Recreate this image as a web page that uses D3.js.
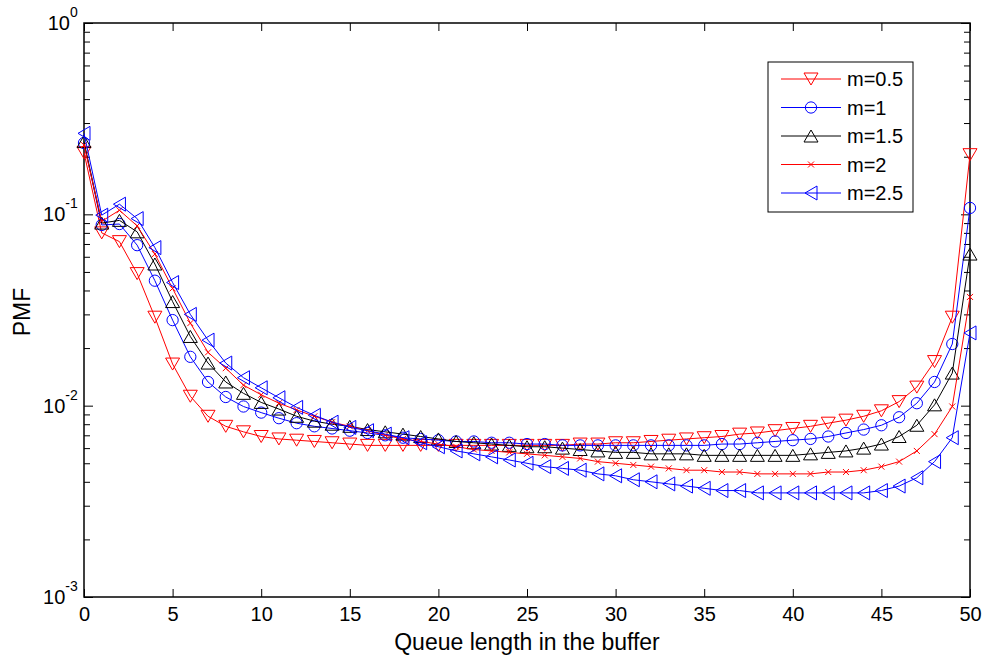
<!DOCTYPE html>
<html>
<head>
<meta charset="utf-8">
<script src="https://cdn.jsdelivr.net/npm/d3@7"></script>
<style>
  body { margin: 0; background: #fff; }
  svg { font-family: "Liberation Sans", Arial, sans-serif; }
</style>
</head>
<body>
<svg id="chart"></svg>
<script>
const [w, h] = [986, 664];
const [pl, pr, pt, pb] = [84, 970, 23, 597];

const queueLen = d3.range(0, 51);
const labels = ['m=0.5', 'm=1', 'm=1.5', 'm=2', 'm=2.5'];
const colors = ['#ff0000', '#0000ff', '#000000', '#ff0000', '#0000ff'];
const markers = ['down', 'circle', 'up', 'x', 'left'];
const xTicks = [0, 5, 10, 15, 20, 25, 30, 35, 40, 45, 50];
const yTicks = [1e-3, 1e-2, 1e-1, 1];
const yExps = ['-3', '-2', '-1', '0'];

const pmf05 = [0.21, 0.08, 0.072, 0.049, 0.029, 0.0165, 0.0112, 0.0088, 0.0078, 0.0073,
  0.0069, 0.0067, 0.0066, 0.0065, 0.0064, 0.0063, 0.0062, 0.0062, 0.0062, 0.0062,
  0.0062, 0.0062, 0.0062, 0.0062, 0.0062, 0.0062, 0.0062, 0.0062, 0.0063, 0.0063,
  0.0064, 0.0064, 0.0065, 0.0066, 0.0067, 0.0068, 0.0069, 0.0071, 0.0072, 0.0074,
  0.0076, 0.0078, 0.0081, 0.0084, 0.0088, 0.0094, 0.0105, 0.0125, 0.017, 0.029, 0.205];
const pmf1 = [0.236, 0.088, 0.089, 0.069, 0.045, 0.028, 0.018, 0.0133, 0.0111, 0.0099,
  0.0092, 0.0086, 0.0081, 0.0078, 0.0076, 0.0074, 0.0072, 0.0070, 0.0068, 0.0067,
  0.0066, 0.0065, 0.0065, 0.0064, 0.0064, 0.0063, 0.0063, 0.0062, 0.0062, 0.0062,
  0.0062, 0.0062, 0.0062, 0.0062, 0.0062, 0.0062, 0.0063, 0.0063, 0.0064, 0.0065,
  0.0066, 0.0067, 0.0069, 0.0072, 0.0075, 0.0079, 0.0087, 0.0103, 0.0133, 0.021, 0.108];
const pmf15 = [0.24, 0.09, 0.093, 0.081, 0.055, 0.035, 0.023, 0.0167, 0.0133, 0.0116,
  0.0104, 0.0096, 0.0088, 0.0083, 0.0080, 0.0078, 0.0075, 0.0073, 0.0071, 0.0069,
  0.0067, 0.0065, 0.0064, 0.0063, 0.0062, 0.0061, 0.0061, 0.0060, 0.0059, 0.0058,
  0.0057, 0.0057, 0.0056, 0.0056, 0.0056, 0.0055, 0.0055, 0.0055, 0.0055, 0.0055,
  0.0055, 0.0056, 0.0057, 0.0058, 0.0060, 0.0063, 0.0069, 0.0079, 0.0101, 0.0148, 0.062];
const pmf2 = [0.23, 0.092, 0.105, 0.087, 0.062, 0.041, 0.027, 0.019, 0.0157, 0.0128,
  0.0114, 0.0103, 0.0095, 0.0088, 0.0082, 0.0078, 0.0074, 0.0070, 0.0067, 0.0065,
  0.0063, 0.0061, 0.0059, 0.0058, 0.0057, 0.0056, 0.0055, 0.0054, 0.0053, 0.0051,
  0.0050, 0.0049, 0.0048, 0.0047, 0.0046, 0.0046, 0.0045, 0.0045, 0.0044, 0.0044,
  0.0044, 0.0044, 0.0045, 0.0045, 0.0046, 0.0048, 0.0051, 0.0058, 0.0071, 0.0099, 0.037];
const pmf25 = [0.265, 0.099, 0.113, 0.095, 0.067, 0.044, 0.030, 0.022, 0.0167, 0.014,
  0.0124, 0.011, 0.0098, 0.0089, 0.0082, 0.0077, 0.0074, 0.0071, 0.0068, 0.0064,
  0.0061, 0.0058, 0.0056, 0.0054, 0.0052, 0.0050, 0.0048, 0.0047, 0.0046, 0.0044,
  0.0043, 0.0041, 0.0040, 0.0039, 0.0038, 0.0037, 0.0036, 0.0036, 0.0035, 0.0035,
  0.0035, 0.0035, 0.0035, 0.0035, 0.0035, 0.0036, 0.0038, 0.0042, 0.0051, 0.0068, 0.024];

const series = [pmf05, pmf1, pmf15, pmf2, pmf25];

const svg = d3.select('#chart').attr('width', w).attr('height', h);
svg.append('rect').attr('width', w).attr('height', h).attr('fill', '#fff');

const xScale = d3.scaleLinear().domain([0, 50]).range([pl, pr]);
const yScale = d3.scaleLog().domain([1e-3, 1]).range([pb, pt]);

// minor log ticks
let minor = [];
[1e-3, 1e-2, 1e-1].forEach(d => { for (let k = 2; k <= 9; k++) minor.push(d * k); });

function styleAxis(g) {
  g.select('.domain').remove();
  g.selectAll('line').attr('stroke', '#000').attr('stroke-width', 1);
}

// x axes
svg.append('g').attr('transform', `translate(0,${pb})`)
  .call(d3.axisBottom(xScale).tickValues(xTicks).tickSize(-8).tickPadding(10).tickFormat(d3.format('d')))
  .call(styleAxis)
  .call(g => g.selectAll('text').attr('font-size', 20).attr('fill', '#000')
    .attr('font-family', '"Liberation Sans", Arial, sans-serif')
    .attr('y', 24).attr('dy', null));
svg.append('g').attr('transform', `translate(0,${pt})`)
  .call(d3.axisTop(xScale).tickValues(xTicks).tickSize(-8).tickFormat(''))
  .call(styleAxis);

// y axes
svg.append('g').attr('transform', `translate(${pl},0)`)
  .call(d3.axisLeft(yScale).tickValues(yTicks).tickSize(-9).tickFormat(''))
  .call(styleAxis);
svg.append('g').attr('transform', `translate(${pl},0)`)
  .call(d3.axisLeft(yScale).tickValues(minor).tickSize(-6).tickFormat(''))
  .call(styleAxis);
svg.append('g').attr('transform', `translate(${pr},0)`)
  .call(d3.axisRight(yScale).tickValues(yTicks).tickSize(-9).tickFormat(''))
  .call(styleAxis);
svg.append('g').attr('transform', `translate(${pr},0)`)
  .call(d3.axisRight(yScale).tickValues(minor).tickSize(-6).tickFormat(''))
  .call(styleAxis);

// y tick labels 10^n
const yl = svg.append('g').selectAll('text').data(yTicks).enter().append('text')
  .attr('x', 40).attr('y', d => yScale(d) + 7)
  .attr('font-size', 20);
yl.append('tspan').text('10');
yl.append('tspan').attr('font-size', 14).attr('dy', -13).text((d, i) => yExps[i]);
// right-align so the exponent ends near the axis
yl.each(function() {
  const bb = this.getBBox();
  d3.select(this).attr('x', 78 - bb.width);
});

// frame
svg.append('rect').attr('x', pl).attr('y', pt)
  .attr('width', pr - pl).attr('height', pb - pt)
  .attr('fill', 'none').attr('stroke', '#000').attr('stroke-width', 1.5);

// marker drawing
function markerPath(type) {
  switch (type) {
    case 'up': return 'M0,-6L7,6L-7,6Z';
    case 'down': return 'M0,6L7,-6L-7,-6Z';
    case 'left': return 'M-6,0L6,-7L6,7Z';
    case 'circle': return d3.symbol(d3.symbolCircle, 100)();
    case 'x': return 'M-3,-3L3,3M-3,3L3,-3';
  }
}

const line = d3.line().x((d, i) => xScale(queueLen[i])).y(d => yScale(d));

const plot = svg.append('g');
series.forEach((vals, s) => {
  const g = plot.append('g');
  g.append('path').datum(vals).attr('d', line)
    .attr('fill', 'none').attr('stroke', colors[s]).attr('stroke-width', 1);
  g.selectAll('path.mk').data(vals).enter().append('path').attr('class', 'mk')
    .attr('transform', (d, i) => `translate(${xScale(queueLen[i])},${yScale(d)})`)
    .attr('d', markerPath(markers[s]))
    .attr('fill', 'none').attr('stroke', colors[s]).attr('stroke-width', 1);
});

// legend
const lg = svg.append('g');
lg.append('rect').attr('x', 768).attr('y', 62).attr('width', 145).attr('height', 150)
  .attr('fill', '#fff').attr('stroke', '#000').attr('stroke-width', 1);
labels.forEach((lab, s) => {
  const y = 79 + s * 28.5;
  lg.append('line').attr('x1', 781).attr('x2', 841).attr('y1', y).attr('y2', y)
    .attr('stroke', colors[s]).attr('stroke-width', 1);
  lg.append('path').attr('transform', `translate(811,${y})`).attr('d', markerPath(markers[s]))
    .attr('fill', 'none').attr('stroke', colors[s]).attr('stroke-width', 1);
  lg.append('text').attr('x', 847).attr('y', y + 7).attr('font-size', 20).text(lab);
});

// axis titles
svg.append('text').attr('x', (pl + pr) / 2).attr('y', 650)
  .attr('text-anchor', 'middle').attr('font-size', 23).text('Queue length in the buffer');
svg.append('text').attr('transform', `translate(30,312) rotate(-90)`)
  .attr('text-anchor', 'middle').attr('font-size', 23).text('PMF');
</script>
</body>
</html>
